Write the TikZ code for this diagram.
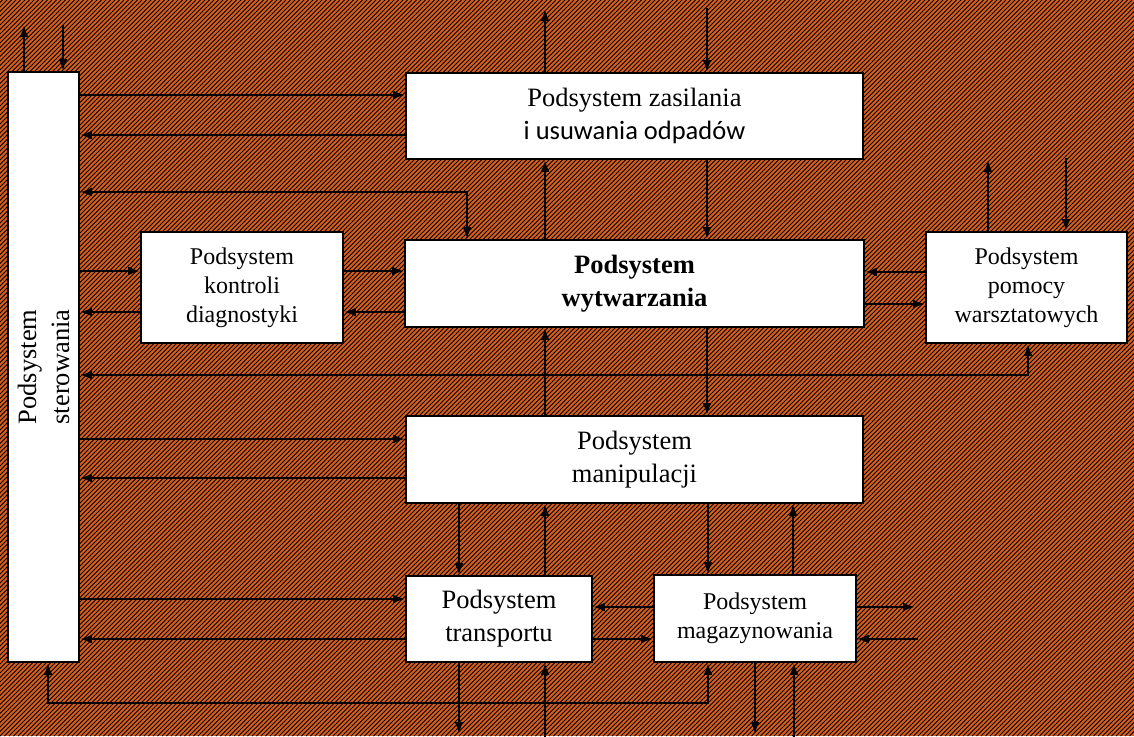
\documentclass[tikz,border=0pt]{standalone}
\usepackage{fontspec}
\setmainfont{Liberation Serif}
\newfontfamily\calfont{Carlito}
\usetikzlibrary{arrows.meta}
\definecolor{bgor}{RGB}{215,95,30}
\begin{document}
\begin{tikzpicture}[x=1pt,y=-1pt,
  box/.style={draw=black, line width=1.8pt, fill=white, align=center, inner sep=0pt},
  big/.style={font=\fontsize{26.5}{33}\selectfont},
  small/.style={font=\fontsize{24}{29}\selectfont},
  ln/.style={line width=2.5pt},
  a1/.style={ln,-{Latex[length=12pt,width=9pt]}},
  a2/.style={ln,{Latex[length=12pt,width=9pt]}-{Latex[length=12pt,width=9pt]}}]
\useasboundingbox (0,0) rectangle (1134,736);
\fill[bgor] (0,0) rectangle (1134,736);
\begin{scope}
\clip (0,0) rectangle (1134,736);
\foreach \i in {-170,...,255} \draw[line width=1.0pt] (\i*4.5,736) -- ++(736,-736);
\end{scope}
% boxes
\node[box, minimum width=71pt, minimum height=590pt] (ster) at (43.5,367) {};
\node[rotate=90, big, align=center] (stert) at (ster.center) {Podsystem\\sterowania};
\node[box, big, minimum width=457pt, minimum height=86pt] (zas) at (634.5,116) {Podsystem zasilania\\{\calfont i usuwania odpadów}};
\node[box, small, minimum width=202pt, minimum height=111pt] (kon) at (242,287.5) {Podsystem\\kontroli\\diagnostyki};
\node[box, big, minimum width=459pt, minimum height=87pt] (wyt) at (634.5,283.5) {\bfseries Podsystem\\\bfseries wytwarzania};
\node[box, small, minimum width=201pt, minimum height=111pt] (pom) at (1026.5,287.5) {Podsystem\\pomocy\\warsztatowych};
\node[box, big, minimum width=457pt, minimum height=87pt] (man) at (634.5,459.5) {Podsystem\\manipulacji};
\node[box, big, minimum width=186pt, minimum height=86pt] (tra) at (499,619) {Podsystem\\transportu};
\node[box, small, minimum width=202pt, minimum height=87pt] (mag) at (755,618.5) {Podsystem\\magazynowania};
% free ends
\coordinate (st1) at (24,25); \coordinate (st2) at (63,25);
\coordinate (z1) at (545,9); \coordinate (z2) at (707,8);
\coordinate (p1) at (988,160); \coordinate (p2) at (1066,158);
\coordinate (t1) at (459,734); \coordinate (t2) at (545,737);
\coordinate (m1) at (755,734); \coordinate (m2) at (794,737);
\coordinate (mo) at (915,607); \coordinate (mi) at (918,639);
% horizontal connectors
\draw[a1] (ster.east|-0,95) -- (zas.west|-0,95);
\draw[a1] (zas.west|-0,135) -- (ster.east|-0,135);
\draw[a2] (ster.east|-0,192) -| (wyt.north-|467,0);
\draw[a1] (ster.east|-0,271) -- (kon.west|-0,271);
\draw[a1] (kon.west|-0,312) -- (ster.east|-0,312);
\draw[a1] (kon.east|-0,271) -- (wyt.west|-0,271);
\draw[a1] (wyt.west|-0,312) -- (kon.east|-0,312);
\draw[a1] (pom.west|-0,272) -- (wyt.east|-0,272);
\draw[a1] (wyt.east|-0,304) -- (pom.west|-0,304);
\draw[a2] (pom.south-|1028,0) |- (ster.east|-0,375);
\draw[a1] (ster.east|-0,439) -- (man.west|-0,439);
\draw[a1] (man.west|-0,478) -- (ster.east|-0,478);
\draw[a1] (ster.east|-0,599) -- (tra.west|-0,599);
\draw[a1] (tra.west|-0,639) -- (ster.east|-0,639);
\draw[a1] (mag.west|-0,607) -- (tra.east|-0,607);
\draw[a1] (tra.east|-0,639) -- (mag.west|-0,639);
\draw[a1] (mag.east|-0,607) -- (mo);
\draw[a1] (mi) -- (mag.east|-0,639);
\draw[a2] (mag.south-|708,0) -- ++(0,40) -| (ster.south-|48,0);
% vertical connectors
\draw[a1] (ster.north-|24,0) -- (st1);
\draw[a1] (st2) -- (ster.north-|63,0);
\draw[a1] (zas.north-|545,0) -- (z1);
\draw[a1] (z2) -- (zas.north-|707,0);
\draw[a1] (zas.south-|707,0) -- (wyt.north-|707,0);
\draw[a1] (wyt.north-|545,0) -- (zas.south-|545,0);
\draw[a1] (wyt.south-|707,0) -- (man.north-|707,0);
\draw[a1] (man.north-|545,0) -- (wyt.south-|545,0);
\draw[a1] (pom.north-|988,0) -- (p1);
\draw[a1] (p2) -- (pom.north-|1066,0);
\draw[a1] (man.south-|459,0) -- (tra.north-|459,0);
\draw[a1] (tra.north-|545,0) -- (man.south-|545,0);
\draw[a1] (man.south-|708,0) -- (mag.north-|708,0);
\draw[a1] (mag.north-|793,0) -- (man.south-|793,0);
\draw[a1] (tra.south-|459,0) -- (t1);
\draw[a1] (t2) -- (tra.south-|545,0);
\draw[a1] (mag.south-|755,0) -- (m1);
\draw[a1] (m2) -- (mag.south-|794,0);
\end{tikzpicture}
\end{document}
